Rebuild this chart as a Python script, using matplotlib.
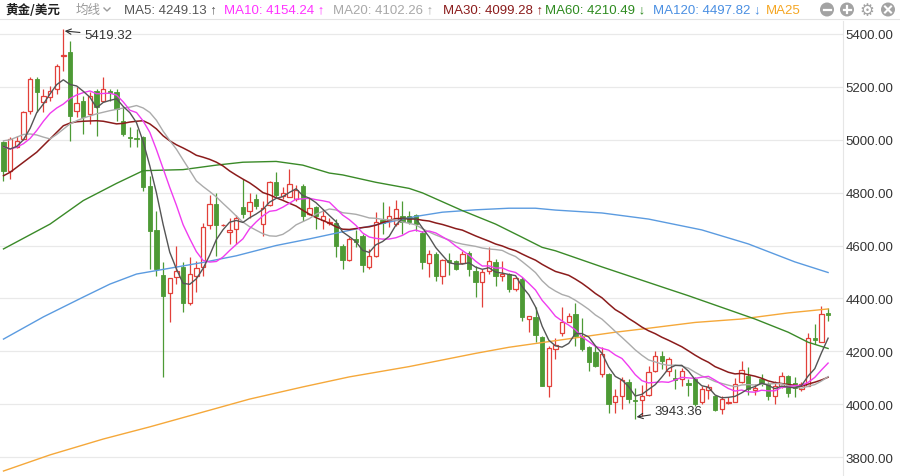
import numpy as np
import pandas as pd
import matplotlib
matplotlib.use("Agg")
import matplotlib.pyplot as plt
from matplotlib.patches import Ellipse
from matplotlib.lines import Line2D

# ---------------- data ----------------
opens = [4990, 4882, 4974, 5003, 5110, 5230, 5142, 5161, 5192, 5316,
         5331, 5110, 5148, 5097, 5186, 5148, 5186, 5180, 5072, 5009,
         5007, 5009, 4826, 4659, 4488, 4420, 4480, 4518, 4383, 4486,
         4518, 4679, 4757, 4676, 4651, 4662, 4747, 4732, 4776, 4681,
         4753, 4839, 4787, 4785, 4776, 4824, 4719, 4744, 4698, 4686,
         4685, 4597, 4546, 4625, 4635, 4518, 4559, 4698, 4694, 4681,
         4713, 4713, 4716, 4646, 4533, 4568, 4486, 4545, 4542, 4533,
         4570, 4505, 4461, 4502, 4539, 4486, 4492, 4435, 4473, 4322,
         4331, 4255, 4070, 4208, 4269, 4312, 4341, 4259, 4215, 4196,
         4114, 4114, 4009, 4030, 4085, 4016, 4016, 4035, 4126, 4183,
         4126, 4098, 4095, 4080, 4095, 4007, 4055, 4030, 3982, 4004,
         4009, 4083, 4108, 4055, 4095, 4076, 4030, 4067, 4105, 4080,
         4057, 4070, 4249, 4236, 4345]
highs = [4996, 5009, 5015, 5108, 5236, 5236, 5192, 5204, 5287, 5419.32,
         5375, 5198, 5167, 5180, 5192, 5236, 5192, 5192, 5123, 5047,
         5041, 5015, 4864, 4732, 4538, 4477, 4599, 4539, 4556, 4543,
         4685, 4792, 4797, 4681, 4704, 4715, 4852, 4799, 4795, 4769,
         4845, 4877, 4821, 4889, 4829, 4833, 4779, 4751, 4738, 4704,
         4700, 4606, 4631, 4660, 4643, 4587, 4726, 4766, 4751, 4773,
         4769, 4730, 4719, 4656, 4583, 4575, 4549, 4570, 4545, 4578,
         4578, 4524, 4511, 4593, 4549, 4543, 4495, 4482, 4480, 4335,
         4366, 4258, 4221, 4250, 4366, 4345, 4383, 4325, 4221, 4219,
         4216, 4118, 4057, 4101, 4095, 4062, 4072, 4145, 4201, 4202,
         4177, 4133, 4136, 4095, 4101, 4070, 4076, 4035, 4030, 4026,
         4098, 4164, 4139, 4076, 4114, 4083, 4089, 4120, 4110, 4101,
         4083, 4269, 4303, 4370, 4362]
lows = [4845, 4852, 4969, 4999, 5097, 5104, 5104, 5148, 5173, 5261,
        4996, 5085, 5022, 5060, 5015, 5142, 5148, 5072, 5015, 4971,
        4971, 4807, 4511, 4486, 4103, 4311, 4454, 4350, 4375, 4423,
        4486, 4662, 4559, 4674, 4606, 4606, 4703, 4703, 4738, 4637,
        4748, 4782, 4776, 4782, 4769, 4694, 4715, 4662, 4662, 4678,
        4555, 4511, 4542, 4593, 4501, 4511, 4555, 4644, 4669, 4675,
        4644, 4681, 4655, 4511, 4482, 4467, 4454, 4490, 4507, 4530,
        4486, 4404, 4366, 4492, 4448, 4467, 4423, 4429, 4313, 4272,
        4234, 4067, 4027, 4171, 4259, 4309, 4221, 4202, 4126, 4139,
        4103, 3966, 3966, 3982, 4004, 3943.36, 3956, 4032, 4123, 4133,
        4105, 4057, 4070, 4032, 3994, 4001, 4019, 3975, 3963, 4001,
        4007, 4080, 4035, 4035, 4070, 4017, 4001, 4060, 4026, 4026,
        4051, 4067, 4227, 4234, 4316]
closes = [4883, 5003, 4996, 5104, 5230, 5180, 5167, 5186, 5280, 5321,
          5091, 5139, 5085, 5167, 5123, 5192, 5177, 5116, 5022, 5005,
          5003, 4820, 4656, 4511, 4410, 4476, 4505, 4383, 4492, 4514,
          4669, 4757, 4678, 4679, 4657, 4703, 4719, 4766, 4751, 4742,
          4841, 4791, 4799, 4831, 4811, 4713, 4741, 4713, 4710, 4690,
          4597, 4546, 4625, 4614, 4526, 4559, 4690, 4685, 4713, 4738,
          4688, 4690, 4681, 4536, 4568, 4486, 4545, 4539, 4511, 4568,
          4511, 4461, 4499, 4540, 4486, 4492, 4435, 4477, 4331, 4333,
          4263, 4070, 4212, 4224, 4309, 4334, 4259, 4208, 4160, 4143,
          4190, 4001, 4030, 4092, 4019, 4012, 4032, 4123, 4181, 4164,
          4171, 4092, 4126, 4072, 4001, 4057, 4064, 3979, 4019, 4009,
          4076, 4130, 4057, 4060, 4076, 4032, 4067, 4105, 4042, 4060,
          4076, 4249, 4244, 4341, 4337]

# start of the short averages (before enough candles are visible)
ma5_lead = [4975, 4965, 4975, 5000]
ma10_lead = [4974, 4965, 4972, 4985, 5005, 5035, 5070, 5100, 5120]
ma20_lead = [4996, 5000, 5010, 5020, 5022, 5018, 5010, 5003, 5020, 5040,
             5060, 5072, 5082, 5090, 5098, 5104, 5110, 5115, 5120]
ma30_lead = [4864, 4877, 4896, 4915, 4934, 4953, 4978, 5003, 5028, 5053,
             5063, 5068, 5070, 5071, 5072, 5070, 5065, 5060, 5062, 5067,
             5070, 5072, 5060, 5041, 5015, 4996, 4981, 4969, 4956]

# long averages at sample candles
ma60_idx = [0, 7, 12, 17, 21, 27, 32, 36, 41, 45, 49, 51, 56, 61, 63, 69, 74,
            78, 81, 83, 90, 100, 103, 108, 113, 118, 121, 124]
ma60_val = [4587, 4681, 4770, 4835, 4883, 4887, 4904, 4915, 4918, 4904, 4874,
            4867, 4839, 4816, 4799, 4732, 4681, 4631, 4593, 4580, 4519, 4435,
            4410, 4366, 4322, 4272, 4234, 4210.49]
ma120_idx = [0, 6, 12, 16, 20, 30, 35, 41, 46, 51, 56, 62, 66, 71, 76, 80, 83,
             90, 97, 105, 112, 119, 124]
ma120_val = [4246, 4330, 4405, 4454, 4492, 4536, 4561, 4600, 4625, 4652, 4678,
             4710, 4726, 4735, 4741, 4741, 4734, 4723, 4700, 4659, 4606, 4538,
             4497.82]
ma250_idx = [0, 7, 15, 22, 30, 37, 45, 52, 61, 71, 76, 83, 92, 97, 104, 111,
             118, 124]
ma250_val = [3747, 3808, 3868, 3914, 3970, 4019, 4065, 4103, 4142, 4192, 4215,
             4240, 4272, 4287, 4309, 4322, 4345, 4360]

y_ticks = [3800, 4000, 4200, 4400, 4600, 4800, 5000, 5200, 5400]

# ---------------- styling ----------------
UP = "#e2403a"
DOWN = "#4d9a35"
C_MA5 = "#555555"
C_MA10 = "#f03cf0"
C_MA20 = "#ababab"
C_MA30 = "#8b1c1c"
C_MA60 = "#3a8a28"
C_MA120 = "#5b9be0"
C_MA250 = "#f5a83a"
LATIN = ["Liberation Sans", "DejaVu Sans"]
CJK = ["Noto Sans CJK SC", "DejaVu Sans"]

W, H = 900, 477
fig = plt.figure(figsize=(W / 100, H / 100), dpi=100)
fig.patch.set_facecolor("white")

ax_left, ax_right, ax_top = 0, 843, 22
ax = fig.add_axes([ax_left / W, 0, (ax_right - ax_left) / W, (H - ax_top) / H])

n = len(closes)
x = np.arange(n)
o = np.array(opens, float)
h = np.array(highs, float)
l = np.array(lows, float)
c = np.array(closes, float)
up = c >= o

# wicks
ax.vlines(x[up], l[up], h[up], color=UP, lw=0.9, zorder=2)
ax.vlines(x[~up], l[~up], h[~up], color=DOWN, lw=0.9, zorder=2)
# bodies
bottom = np.minimum(o, c)
height = np.maximum(np.abs(c - o), 2.5)
bw = 0.66
ax.bar(x[up], height[up], bottom=bottom[up], width=bw, facecolor="white",
       edgecolor=UP, linewidth=0.9, zorder=3)
ax.bar(x[~up], height[~up], bottom=bottom[~up], width=bw, facecolor=DOWN,
       edgecolor=DOWN, linewidth=0.6, zorder=3)


def moving_average(window, lead):
    s = pd.Series(c).rolling(window).mean().to_numpy()
    s[:len(lead)] = lead
    return s


ma5 = moving_average(5, ma5_lead)
ma10 = moving_average(10, ma10_lead)
ma20 = moving_average(20, ma20_lead)
ma30 = moving_average(30, ma30_lead)

ax.plot(ma250_idx, ma250_val, color=C_MA250, lw=1.0, zorder=4)
ax.plot(ma120_idx, ma120_val, color=C_MA120, lw=1.0, zorder=4)
ax.plot(ma60_idx, ma60_val, color=C_MA60, lw=1.0, zorder=4)
ax.plot(x, ma30, color=C_MA30, lw=1.1, zorder=5)
ax.plot(x, ma20, color=C_MA20, lw=1.0, zorder=5)
ax.plot(x, ma10, color=C_MA10, lw=1.0, zorder=5)
ax.plot(x, ma5, color=C_MA5, lw=1.0, zorder=6)

# max / min annotations
imax = int(np.argmax(h))
imin = int(np.argmin(l))
ax.annotate(f"{h[imax]:.2f}", xy=(imax + 0.2, h[imax] - 8), xytext=(14, -3),
            textcoords="offset points", ha="left", va="center", fontsize=9.5,
            color="#333333", family=LATIN, zorder=8,
            arrowprops=dict(arrowstyle="->", color="#333333", lw=0.8,
                            shrinkA=1, shrinkB=0))
ax.annotate(f"{l[imin]:.2f}", xy=(imin + 0.2, l[imin] + 8), xytext=(13, 4.5),
            textcoords="offset points", ha="left", va="center", fontsize=9.5,
            color="#333333", family=LATIN, zorder=8,
            arrowprops=dict(arrowstyle="->", color="#333333", lw=0.8,
                            shrinkA=1, shrinkB=0))

# axes scales
x0_px, step_px = 3.5, 6.65
ax.set_xlim((ax_left - x0_px) / step_px, (ax_right - x0_px) / step_px)
px_per_unit = (458 - 35) / 1600.0
ax.set_ylim(5400 - (H - 35) / px_per_unit, 5400 + (35 - ax_top) / px_per_unit)

ax.set_yticks(y_ticks)
ax.set_yticklabels([f"{v:.2f}" for v in y_ticks])
ax.yaxis.tick_right()
ax.tick_params(axis="y", length=0, pad=2, labelsize=9.5, labelcolor="#333333")
for lab in ax.get_yticklabels():
    lab.set_family(LATIN)
ax.set_xticks([])
ax.grid(axis="y", color="#e9e9e9", lw=0.9, zorder=0)
ax.set_axisbelow(True)
for s in ["top", "left", "bottom"]:
    ax.spines[s].set_visible(False)
ax.spines["right"].set_color("#e6e6e6")
ax.spines["right"].set_linewidth(0.8)
ax.set_facecolor("white")

# ---------------- header ----------------
ty = 1 - 10.5 / H
fig.add_artist(Line2D([0, 1], [1 - 20 / H, 1 - 20 / H], color="#e3e3e3", lw=0.8))
fig.text(5 / W, ty, "黄金/美元", family=CJK, fontsize=9, fontweight="bold",
         color="#222222", va="center", ha="left")
fig.text(76 / W, ty, "均线", family=CJK, fontsize=9, color="#9a9a9a",
         va="center", ha="left")
fig.add_artist(Line2D([104 / W, 107 / W, 110 / W],
                      [1 - 9 / H, 1 - 12 / H, 1 - 9 / H], color="#9a9a9a", lw=1.0))

header = [
    (124, "MA5: 4249.13 ↑", C_MA5),
    (224, "MA10: 4154.24 ↑", "#ff33ff"),
    (333, "MA20: 4102.26 ↑", "#a8a8a8"),
    (443, "MA30: 4099.28 ↑", C_MA30),
    (545, "MA60: 4210.49 ↓", "#2e8b20"),
    (653, "MA120: 4497.82 ↓", "#4a8fe2"),
    (766, "MA25", "#f5a623"),
]
for hx, txt, col in header:
    fig.text(hx / W, ty, txt, family=LATIN, fontsize=9.5, color=col,
             va="center", ha="left")

# toolbar icons
ic_col = "#a3a3a3"
rx, ry = 7.0 / W, 7.0 / H
for cx in [827, 847, 888]:
    fig.add_artist(Ellipse((cx / W, ty), 2 * rx, 2 * ry, facecolor=ic_col,
                           edgecolor="none", transform=fig.transFigure))
# minus
fig.add_artist(Line2D([823.5 / W, 830.5 / W], [ty, ty], color="white", lw=1.6))
# plus
fig.add_artist(Line2D([843.5 / W, 850.5 / W], [ty, ty], color="white", lw=1.6))
fig.add_artist(Line2D([847 / W, 847 / W], [ty - 3.5 / H, ty + 3.5 / H],
                      color="white", lw=1.6))
# close
fig.add_artist(Line2D([885 / W, 891 / W], [ty - 3 / H, ty + 3 / H], color="white", lw=1.5))
fig.add_artist(Line2D([885 / W, 891 / W], [ty + 3 / H, ty - 3 / H], color="white", lw=1.5))
# gear
fig.text(867 / W, ty, "⚙", family=["DejaVu Sans"], fontsize=12, color=ic_col,
         va="center", ha="center")

fig.savefig("out.png", dpi=100, facecolor="white")
